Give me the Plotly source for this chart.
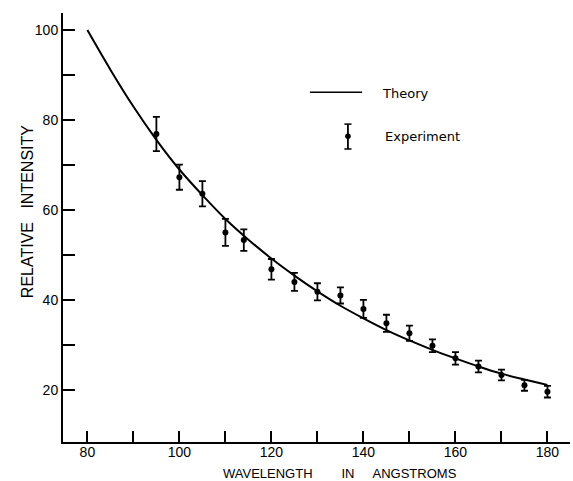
import plotly.graph_objects as go

# Theory curve
theory_x = [80, 85, 90, 95, 100, 105, 110, 115, 120, 125, 130, 135, 140, 145, 150, 155, 160, 165, 170, 175, 180]
theory_y = [100, 91.2, 83.0, 75.6, 69.0, 63.3, 58.0, 53.4, 49.2, 45.4, 41.9, 38.7, 35.9, 33.3, 31.0, 28.9, 27.0, 25.2, 23.6, 22.3, 21.1]

# Experimental points with error bars
exp_x = [95, 100, 105, 110, 114, 120, 125, 130, 135, 140, 145, 150, 155, 160, 165, 170, 175, 180]
exp_y = [76.9, 67.3, 63.6, 55.0, 53.3, 46.8, 44.0, 41.8, 41.0, 38.0, 34.8, 32.6, 29.8, 27.0, 25.2, 23.3, 21.0, 19.6]
exp_err = [3.8, 2.8, 2.8, 3.0, 2.4, 2.3, 2.0, 1.9, 1.8, 2.0, 1.9, 1.7, 1.4, 1.4, 1.3, 1.2, 1.2, 1.3]

x_ticks = [80, 90, 100, 110, 120, 130, 140, 150, 160, 170, 180]
x_labels = ["80", "", "100", "", "120", "", "140", "", "160", "", "180"]
y_ticks = [20, 30, 40, 50, 60, 70, 80, 90, 100]
y_labels = ["20", "", "40", "", "60", "", "80", "", "100"]

x_title = "WAVELENGTH" + "\u00a0" * 8 + "IN" + "\u00a0" * 5 + "ANGSTROMS"
y_title = "RELATIVE" + "\u00a0" * 3 + "INTENSITY"

fig = go.Figure()
fig.add_trace(go.Scatter(x=theory_x, y=theory_y, mode="lines", name="Theory",
                         line=dict(color="black", width=2, shape="spline", smoothing=1.0)))
fig.add_trace(go.Scatter(x=exp_x, y=exp_y, mode="markers", name="Experiment",
                         marker=dict(color="black", size=6),
                         error_y=dict(type="data", array=exp_err, visible=True,
                                      color="black", thickness=1.8, width=3.5)))

sans = "Liberation Sans, Arial, sans-serif"
tick_font = dict(family=sans, size=14, color="black")

fig.update_layout(
    width=573, height=481,
    margin=dict(l=63, r=3, t=13, b=39),
    paper_bgcolor="white", plot_bgcolor="white",
    showlegend=False,
    xaxis=dict(range=[74.7, 184.9], tickvals=x_ticks, ticktext=x_labels,
               ticks="inside", ticklen=11, tickwidth=1.5, tickcolor="black",
               showline=True, linecolor="black", linewidth=2, showgrid=False,
               zeroline=False, tickfont=tick_font, ticklabelstandoff=-4),
    yaxis=dict(range=[8.4, 103.8], tickvals=y_ticks, ticktext=y_labels,
               ticks="inside", ticklen=12, tickwidth=1.5, tickcolor="black",
               showline=True, linecolor="black", linewidth=2, showgrid=False,
               zeroline=False, tickfont=tick_font),
)

# Axis titles
fig.add_annotation(xref="paper", yref="paper", x=0.546, y=0, yshift=-31, text=x_title,
                   showarrow=False, xanchor="center", yanchor="middle",
                   font=dict(family=sans, size=13, color="black"))
fig.add_annotation(xref="paper", yref="paper", x=0, xshift=-35.5, y=0.537, text=y_title,
                   showarrow=False, xanchor="center", yanchor="middle", textangle=-90,
                   font=dict(family=sans, size=16, color="black"))

# Legend drawn as decorations
leg_font = dict(family="DejaVu Sans, sans-serif", size=13, color="black")
fig.add_shape(type="line", xref="paper", yref="paper", x0=0.487, x1=0.590, y0=0.815, y1=0.815,
              line=dict(color="black", width=1.5))
fig.add_annotation(xref="paper", yref="paper", x=0.625, y=0.813, text="Theory", showarrow=False,
                   xanchor="left", yanchor="middle", font=leg_font)
fig.add_shape(type="line", xref="paper", yref="paper", x0=0.562, x1=0.562, y0=0.683, y1=0.741,
              line=dict(color="black", width=1.8))
fig.add_shape(type="line", xref="paper", yref="paper", x0=0.555, x1=0.569, y0=0.683, y1=0.683,
              line=dict(color="black", width=1.5))
fig.add_shape(type="line", xref="paper", yref="paper", x0=0.555, x1=0.569, y0=0.741, y1=0.741,
              line=dict(color="black", width=1.5))
fig.add_shape(type="circle", xref="paper", yref="paper", x0=0.5565, x1=0.5675, y0=0.706, y1=0.719,
              fillcolor="black", line=dict(color="black", width=0))
fig.add_annotation(xref="paper", yref="paper", x=0.631, y=0.713, text="Experiment", showarrow=False,
                   xanchor="left", yanchor="middle", font=leg_font)

fig.write_html("out.html", config={"displayModeBar": False},
               post_script="document.body.style.margin='0';")
